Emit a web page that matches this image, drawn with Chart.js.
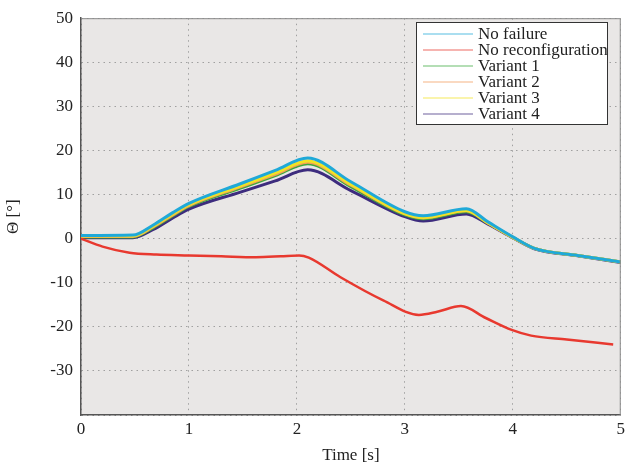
<!DOCTYPE html>
<html>
<head>
<meta charset="utf-8">
<script src="https://cdn.jsdelivr.net/npm/chart.js@4/dist/chart.umd.min.js"></script>
<style>
  html, body { margin: 0; padding: 0; background: #fff; }
  #wrap { width: 629px; height: 466px; }
</style>
</head>
<body>
<div id="wrap"><canvas id="thetaChart"></canvas></div>
<script>
// time axis shared by the reconfigured responses
var timeMain = [0, 0.48, 0.67, 0.85, 1.0, 1.47, 1.8, 2.1, 2.5, 3.0, 3.17, 3.57, 3.77, 4.0, 4.2, 4.6, 5.0];
var noFailure = [0.7, 0.8, 3.1, 5.9, 8.0, 12.4, 15.5, 18.3, 12.9, 6.1, 5.2, 6.8, 3.8, 0.4, -2.2, -3.8, -5.3];
var variant1  = [0.4, 0.4, 2.5, 5.2, 7.3, 11.4, 14.3, 17.0, 11.8, 5.4, 4.5, 6.1, 3.5, 0.3, -2.2, -3.8, -5.3];
var variant2  = [0.5, 0.5, 2.7, 5.4, 7.5, 11.7, 14.6, 17.3, 12.1, 5.6, 4.7, 6.3, 3.5, 0.3, -2.2, -3.8, -5.3];
var variant3  = [0.6, 0.6, 2.9, 5.6, 7.7, 11.9, 14.9, 17.6, 12.3, 5.7, 4.8, 6.4, 3.6, 0.3, -2.2, -3.8, -5.3];
var variant4  = [0.2, 0.2, 2.1, 4.7, 6.7, 10.5, 13.1, 15.6, 10.9, 5.0, 4.0, 5.6, 3.3, 0.2, -2.3, -3.9, -5.4];

// no reconfiguration has its own sampling
var timeNoReconf = [0, 0.2, 0.45, 0.7, 1.0, 1.3, 1.62, 1.85, 2.02, 2.11, 2.4, 2.8, 3.13, 3.3, 3.52, 3.75, 3.99, 4.17, 4.5, 4.93];
var noReconf = [0, -1.8, -3.2, -3.6, -3.8, -4.0, -4.2, -4.0, -3.8, -4.3, -8.7, -14.0, -17.3, -16.6, -15.3, -18.0, -20.7, -22.0, -22.9, -24.0];

var xTicks = [0, 1, 2, 3, 4, 5];
var yTicks = [-30, -20, -10, 0, 10, 20, 30, 40, 50];

function pts(t, v) {
  return t.map(function (x, i) { return {x: x, y: v[i]}; });
}

var serif = "'Liberation Serif', 'DejaVu Serif', serif";

var series = [
  {label: "No failure",         data: pts(timeMain, noFailure),    color: "#1fa9d8", width: 3,   order: 0},
  {label: "No reconfiguration", data: pts(timeNoReconf, noReconf), color: "#e8392f", width: 2.5, order: 1},
  {label: "Variant 1",          data: pts(timeMain, variant1),     color: "#3aa83c", width: 3,   order: 4},
  {label: "Variant 2",          data: pts(timeMain, variant2),     color: "#f39c5b", width: 3,   order: 3},
  {label: "Variant 3",          data: pts(timeMain, variant3),     color: "#f2e323", width: 3,   order: 2},
  {label: "Variant 4",          data: pts(timeMain, variant4),     color: "#3d2c7e", width: 3,   order: 5}
];

var datasets = series.map(function (s) {
  return {
    label: s.label,
    data: s.data,
    borderColor: s.color,
    backgroundColor: s.color,
    borderWidth: s.width,
    pointRadius: 0,
    cubicInterpolationMode: "monotone",
    order: s.order,
    fill: false
  };
});

// grey plot background + thin frame on top/right
var plotFrame = {
  id: "plotFrame",
  beforeDraw: function (chart) {
    var a = chart.chartArea, ctx = chart.ctx;
    ctx.save();
    ctx.fillStyle = "#e9e7e6";
    ctx.fillRect(a.left, a.top, a.right - a.left, a.bottom - a.top);
    ctx.restore();
  },
  afterDraw: function (chart) {
    var a = chart.chartArea, ctx = chart.ctx;
    ctx.save();
    ctx.strokeStyle = "#8a8a8a";
    ctx.lineWidth = 1;
    ctx.beginPath();
    ctx.moveTo(a.left, a.top + 0.5);
    ctx.lineTo(a.right - 0.5, a.top + 0.5);
    ctx.lineTo(a.right - 0.5, a.bottom);
    ctx.stroke();
    ctx.restore();
  }
};

// boxed legend inside the plot, like the matlab one
var boxLegend = {
  id: "boxLegend",
  afterDraw: function (chart) {
    var ctx = chart.ctx;
    var x0 = 416, y0 = 22, w = 191, h = 102;
    ctx.save();
    ctx.fillStyle = "#ffffff";
    ctx.fillRect(x0, y0, w, h);
    ctx.strokeStyle = "#333333";
    ctx.lineWidth = 1;
    ctx.strokeRect(x0 + 0.5, y0 + 0.5, w, h);
    ctx.font = "17px " + serif;
    ctx.textBaseline = "middle";
    ctx.textAlign = "left";
    chart.data.datasets.forEach(function (ds, i) {
      var y = y0 + 12 + i * 16;
      ctx.strokeStyle = ds.borderColor;
      ctx.globalAlpha = 0.75;
      ctx.lineWidth = 1.2;
      ctx.beginPath();
      ctx.moveTo(423, y);
      ctx.lineTo(473, y);
      ctx.stroke();
      ctx.globalAlpha = 1;
      ctx.fillStyle = "#222222";
      ctx.fillText(ds.label, 478, y + 1);
    });
    ctx.restore();
  }
};

var ctx = document.getElementById("thetaChart").getContext("2d");
new Chart(ctx, {
  type: "line",
  data: {datasets: datasets},
  options: {
    responsive: true,
    maintainAspectRatio: false,
    animation: false,
    layout: {padding: {top: 15, right: 4, left: 3, bottom: 0}},
    plugins: {
      legend: {display: false},
      tooltip: {enabled: false}
    },
    scales: {
      x: {
        type: "linear",
        min: 0,
        max: 5,
        afterBuildTicks: function (scale) {
          scale.ticks = xTicks.map(function (v) { return {value: v}; });
        },
        ticks: {
          color: "#222",
          font: {family: serif, size: 17},
          padding: 4,
          maxRotation: 0
        },
        grid: {color: "#a0a0a0", lineWidth: 1, drawTicks: false},
        border: {display: true, color: "#555", width: 1.5, dash: [1.5, 4]},
        title: {
          display: true,
          text: "Time [s]",
          color: "#222",
          font: {family: serif, size: 17},
          padding: {top: 5, bottom: 0}
        },
        afterFit: function (scale) { scale.height = 51; }
      },
      y: {
        min: -40,
        max: 50,
        afterBuildTicks: function (scale) {
          scale.ticks = [-40].concat(yTicks).map(function (v) { return {value: v}; });
        },
        ticks: {
          color: "#222",
          font: {family: serif, size: 17},
          padding: 8,
          callback: function (v) { return v === -40 ? "" : v; }
        },
        grid: {color: "#a0a0a0", lineWidth: 1, drawTicks: false},
        border: {display: true, color: "#555", width: 1.5, dash: [1.5, 4]},
        title: {
          display: true,
          text: "Θ [°]",
          color: "#222",
          font: {family: serif, size: 17},
          padding: {top: 0, bottom: 0}
        },
        afterFit: function (scale) { scale.width = 78; }
      }
    }
  },
  plugins: [plotFrame, boxLegend]
});
</script>
</body>
</html>
